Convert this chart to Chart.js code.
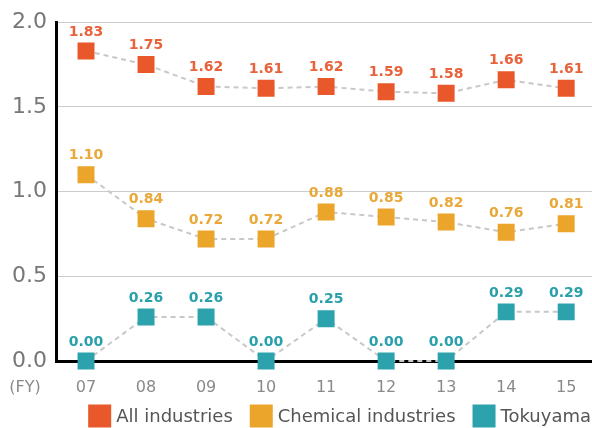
<!DOCTYPE html>
<html><head><meta charset="utf-8">
<script src="https://cdn.jsdelivr.net/npm/chart.js@4/dist/chart.umd.min.js"></script>
<style>html,body{margin:0;padding:0;background:#fff}</style>
</head><body>
<canvas id="c" width="592" height="428" style="display:block;width:592px;height:428px"></canvas>
<script>
const years = ['07','08','09','10','11','12','13','14','15'];
const allIndustries = [1.83,1.75,1.62,1.61,1.62,1.59,1.58,1.66,1.61];
const chemicalIndustries = [1.10,0.84,0.72,0.72,0.88,0.85,0.82,0.76,0.81];
const tokuyama = [0.00,0.26,0.26,0.00,0.25,0.00,0.00,0.29,0.29];
const seriesNames = ['All industries','Chemical industries','Tokuyama'];
const xUnitLabel = '(FY)';

const FONT = '"DejaVu Sans", Verdana, sans-serif';
const markerColors = ['#E9582B','#EBA52A','#2BA2AC'];
const labelColors = ['#E8623A','#E9A838','#2AA0AA'];

function toPoints(arr){ return arr.map((v,i)=>({x:i,y:v})); }
const seriesValues = [allIndustries, chemicalIndustries, tokuyama];

const datasets = seriesValues.map((vals, k) => ({
  label: seriesNames[k],
  data: toPoints(vals),
  borderColor: '#c8c8c8',
  borderWidth: 2,
  borderDash: [5,4],
  pointStyle: 'rect',
  pointRadius: 12,
  pointHoverRadius: 12,
  pointBackgroundColor: markerColors[k],
  pointBorderColor: markerColors[k],
  pointBorderWidth: 0,
  tension: 0,
  fill: false,
  clip: 14
}));

const valueLabels = {
  id: 'valueLabels',
  afterDatasetsDraw(chart){
    const ctx = chart.ctx;
    ctx.save();
    ctx.font = 'bold 14px ' + FONT;
    ctx.textAlign = 'center';
    ctx.textBaseline = 'middle';
    chart.data.datasets.forEach((ds, k) => {
      const meta = chart.getDatasetMeta(k);
      ctx.fillStyle = labelColors[k];
      meta.data.forEach((pt, i) => {
        ctx.fillText(seriesValues[k][i].toFixed(2), pt.x, pt.y - 19);
      });
    });
    ctx.restore();
  }
};

const extras = {
  id: 'extras',
  afterDraw(chart){
    const xs = chart.scales.x;
    const ctx = chart.ctx;
    ctx.save();
    ctx.font = '16px ' + FONT;
    ctx.fillStyle = '#8a8a8a';
    ctx.textAlign = 'center';
    ctx.textBaseline = 'middle';
    ctx.fillText(xUnitLabel, 25, xs.top + 17 + 16*1.2/2);
    ctx.font = '18px ' + FONT;
    ctx.textAlign = 'left';
    const box = 23, gap = 5, spacing = 17;
    const widths = seriesNames.map(n => ctx.measureText(n).width);
    let total = widths.reduce((a,w)=>a+box+gap+w,0) + spacing*(seriesNames.length-1);
    let x = chart.width - 1 - total;
    const cy = 416;
    seriesNames.forEach((n,k) => {
      ctx.fillStyle = markerColors[k];
      ctx.fillRect(x, cy - box/2, box, box);
      ctx.fillStyle = '#555';
      ctx.fillText(n, x + box + gap, cy + 1);
      x += box + gap + widths[k] + spacing;
    });
    ctx.restore();
  }
};

new Chart(document.getElementById('c'), {
  type: 'line',
  data: { datasets },
  options: {
    responsive: false,
    animation: false,
    events: [],
    layout: { autoPadding: false, padding: { top: 22, right: 0, left: 0, bottom: 31 } },
    plugins: {
      tooltip: { enabled: false },
      legend: { display: false }
    },
    scales: {
      x: {
        type: 'linear',
        min: -0.5,
        max: 8.43,
        afterBuildTicks(scale){ scale.ticks = years.map((_, i) => ({ value: i })); },
        afterFit(scale){ scale.paddingRight = 0; scale.paddingLeft = 0; scale.height = 36; },
        grid: { display: false, drawTicks: false },
        border: { display: true, color: '#000', width: 3 },
        ticks: {
          padding: 17,
          color: '#8a8a8a',
          font: { family: FONT, size: 16 },
          callback: (v) => years[v],
          autoSkip: false,
          maxRotation: 0
        }
      },
      y: {
        min: 0,
        max: 2,
        afterFit(scale){ scale.width = 56; },
        ticks: {
          stepSize: 0.5,
          padding: 9,
          color: '#777777',
          font: { family: FONT, size: 22 },
          callback: (v) => v.toFixed(1)
        },
        grid: { color: (c) => c.tick.value === 0 ? 'rgba(0,0,0,0)' : '#cccccc', lineWidth: 1, drawTicks: false },
        border: { display: true, color: '#000', width: 3 }
      }
    }
  },
  plugins: [valueLabels, extras]
});
</script>
</body></html>
